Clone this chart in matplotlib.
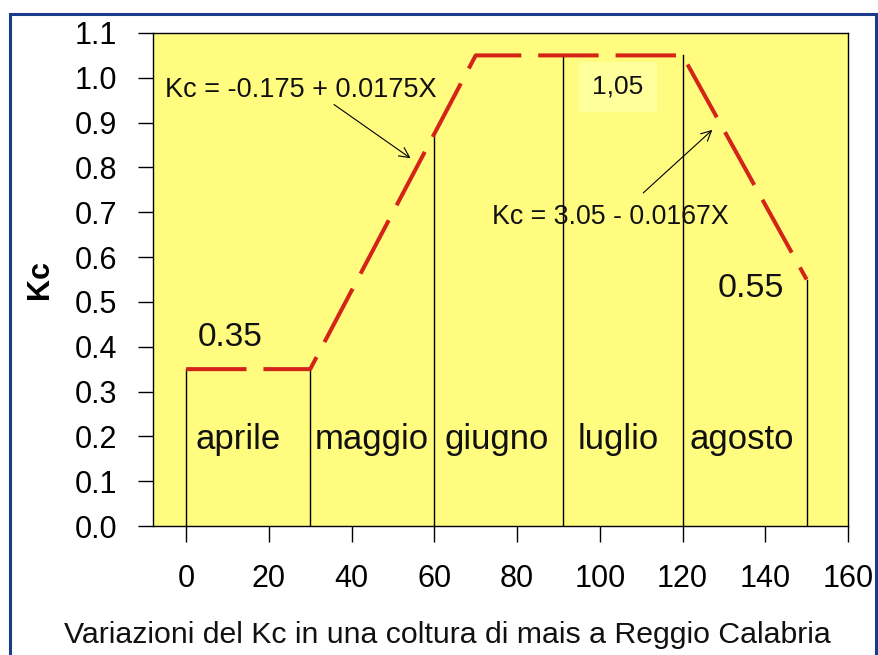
import matplotlib
matplotlib.use("Agg")
import matplotlib.pyplot as plt
from matplotlib.patches import Rectangle

plt.rcParams['font.family'] = ['Liberation Sans', 'DejaVu Sans']

# Data
kc_x = [0, 30, 70, 120, 150]
kc_y = [0.35, 0.35, 1.05, 1.05, 0.55]
vline_x = [0, 30, 60, 91, 120, 150]
vline_top = [0.35, 0.35, 0.875, 1.05, 1.05, 0.55]
months = ["aprile", "maggio", "giugno", "luglio", "agosto"]
month_x = [12.5, 45, 75, 104.5, 134.4]
month_y = 0.192
x_ticks = [0, 20, 40, 60, 80, 100, 120, 140, 160]
y_ticks = [0.0, 0.1, 0.2, 0.3, 0.4, 0.5, 0.6, 0.7, 0.8, 0.9, 1.0, 1.1]

fig = plt.figure(figsize=(8.79, 6.55), dpi=100)
fig.patch.set_facecolor('white')
ax = fig.add_axes([153/879, 1-526/655, (848-153)/879, (526-33)/655])
ax.set_facecolor('#fffc80')
ax.set_xlim(-8, 160)
ax.set_ylim(0, 1.1)

for xv, yt in zip(vline_x, vline_top):
    ax.plot([xv, xv], [0, yt], color='black', lw=1.0, zorder=2)

ax.plot(kc_x, kc_y, color='#d42418', lw=2.9, dashes=(15, 4.2), zorder=3,
        solid_capstyle='butt', dash_capstyle='butt')

for m, mx in zip(months, month_x):
    ax.text(mx, month_y, m, ha='center', va='center', fontsize=25, color='#111111')

ax.text(2.7, 0.42, "0.35", ha='left', va='center', fontsize=24, color='#111111')
ax.text(128.4, 0.531, "0.55", ha='left', va='center', fontsize=24.5, color='#111111')
ax.text(98.2, 0.98, "1,05", ha='left', va='center', fontsize=19, color='#111111',
        bbox=dict(boxstyle='square,pad=0.5', fc='#ffff9c', ec='none'))
ax.text(-5.1, 0.973, "Kc = -0.175 + 0.0175X", ha='left', va='center', fontsize=19.5, color='#111111')
ax.text(73.9, 0.69, "Kc = 3.05 - 0.0167X", ha='left', va='center', fontsize=19.3, color='#111111')

ax.annotate("", xy=(54.8, 0.817), xytext=(35.2, 0.944),
            arrowprops=dict(arrowstyle='->', color='black', lw=0.8, mutation_scale=18))
ax.annotate("", xy=(127.7, 0.888), xytext=(110, 0.739),
            arrowprops=dict(arrowstyle='->', color='black', lw=0.8, mutation_scale=18))

ax.set_xticks(x_ticks)
ax.set_xticklabels([str(t) for t in x_ticks])
ax.set_yticks(y_ticks)
ax.set_yticklabels([f"{t:.1f}" for t in y_ticks])
ax.tick_params(axis='x', direction='out', length=11.5, width=1.0, pad=16, labelsize=22, colors='black')
ax.tick_params(axis='y', direction='out', length=11, width=1.0, pad=15, labelsize=22, colors='black')
for sp in ax.spines.values():
    sp.set_linewidth(1.0)
    sp.set_color('black')

ax.set_ylabel("Kc", fontsize=22, fontweight='bold', labelpad=14)
fig.text(447/879, 1 - 635/655, "Variazioni del Kc in una coltura di mais a Reggio Calabria",
         ha='center', va='center', fontsize=21.8, color='#111111')

fig.add_artist(Rectangle((10/879, -0.02), 866/879, 1 - 14/655 + 0.02,
                         transform=fig.transFigure, fill=False, ec='#1a3a8c', lw=2.2))

fig.savefig("out.png", dpi=100)
